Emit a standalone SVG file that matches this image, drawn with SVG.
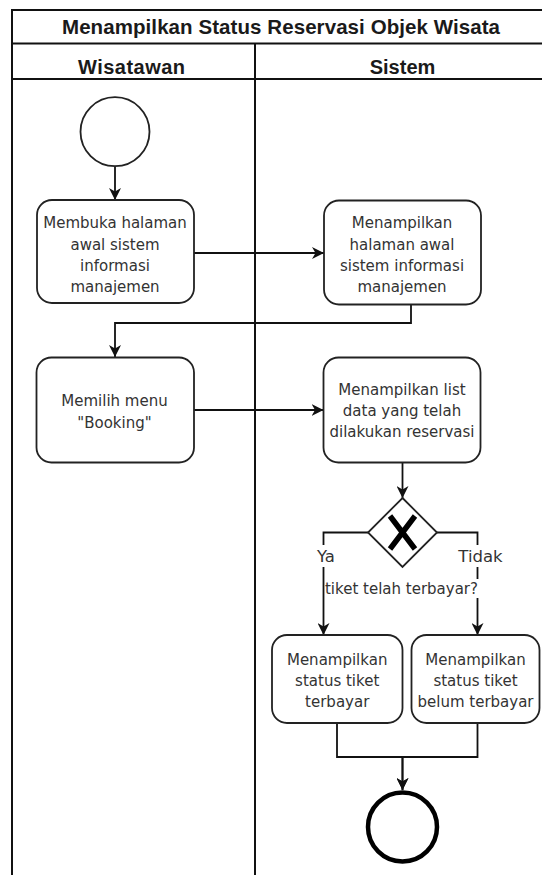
<svg xmlns="http://www.w3.org/2000/svg" width="542" height="875" viewBox="0 0 542 875">
<style>
.lane{fill:none;stroke:#111;stroke-width:2}
.box{fill:#fff;stroke:#222;stroke-width:1.8}
.edge{fill:none;stroke:#111;stroke-width:1.8}
.hd{font-family:"Liberation Sans",Arial,sans-serif;font-weight:bold;fill:#1a1a1a;text-anchor:middle}
.t{font-family:"DejaVu Sans","Noto Sans",sans-serif;font-size:15px;fill:#333;text-anchor:middle}
.lbl{font-family:"DejaVu Sans","Noto Sans",sans-serif;font-size:15px;fill:#333;text-anchor:middle}
.big{font-size:16.5px}
</style>
<defs>
<marker id="arr" viewBox="0 0 12 12" refX="12" refY="6" markerWidth="12" markerHeight="12" markerUnits="userSpaceOnUse" orient="auto">
<path d="M0,0 L12,6 L0,12 L3.5,6 Z" fill="#111"/>
</marker>
</defs>
<rect width="542" height="875" fill="#fff"/>
<g id="pool">
<rect class="lane" x="12" y="10" width="540" height="880"/>
<line class="lane" x1="12" y1="43.5" x2="552" y2="43.5"/>
<line class="lane" x1="12" y1="79" x2="552" y2="79"/>
<line class="lane" x1="255" y1="43.5" x2="255" y2="890"/>
<text class="hd" x="281" y="33.5" font-size="20.5" textLength="438" lengthAdjust="spacing">Menampilkan Status Reservasi Objek Wisata</text>
<text class="hd" x="131.5" y="74" font-size="20" textLength="107" lengthAdjust="spacing">Wisatawan</text>
<text class="hd" x="402.5" y="74" font-size="20">Sistem</text>
</g>
<g id="connectors">
<path class="edge" d="M115,166.5 V200" marker-end="url(#arr)"/>
<path class="edge" d="M194,253 H324" marker-end="url(#arr)"/>
<path class="edge" d="M411,305 V323 H115 V357" marker-end="url(#arr)"/>
<path class="edge" d="M194,410 H323.5" marker-end="url(#arr)"/>
<path class="edge" d="M402.5,463 V498" marker-end="url(#arr)"/>
<path class="edge" d="M368,532.5 H323.5 V635" marker-end="url(#arr)"/>
<path class="edge" d="M437,532.5 H477.5 V635" marker-end="url(#arr)"/>
<path class="edge" d="M337,723 V757 H402.5 V790" marker-end="url(#arr)"/>
<path class="edge" d="M477.5,723 V757 H402.5 V790" marker-end="url(#arr)"/>
<rect x="313" y="545" width="26" height="22" fill="#fff"/>
<text class="lbl big" x="326" y="562">Ya</text>
<rect x="457" y="545" width="47" height="22" fill="#fff"/>
<text class="lbl big" x="480.5" y="562">Tidak</text>
<rect x="325" y="579" width="154" height="19" fill="#fff"/>
<text class="lbl" x="401.5" y="593.5">tiket telah terbayar?</text>
</g>
<g id="start">
<circle cx="115" cy="131.7" r="34.5" fill="#fff" stroke="#222" stroke-width="1.8"/>
</g>
<g id="n1">
<rect class="box" x="37" y="200" width="157" height="103" rx="15"/>
<text class="t" x="115" y="228">Membuka halaman</text>
<text class="t" x="115" y="249.5">awal sistem</text>
<text class="t" x="115" y="271">informasi</text>
<text class="t" x="115" y="292">manajemen</text>
</g>
<g id="n2">
<rect class="box" x="324" y="200.5" width="157" height="104" rx="15"/>
<text class="t" x="402" y="228">Menampilkan</text>
<text class="t" x="402" y="249.5">halaman awal</text>
<text class="t" x="402" y="271">sistem informasi</text>
<text class="t" x="402" y="292">manajemen</text>
</g>
<g id="n3">
<rect class="box" x="36.5" y="357.5" width="157.5" height="105" rx="15"/>
<text class="t" x="114.5" y="406">Memilih menu</text>
<text class="t" x="114.5" y="427.5">"Booking"</text>
</g>
<g id="n4">
<rect class="box" x="323.5" y="357.5" width="157" height="105" rx="15"/>
<text class="t" x="402" y="395">Menampilkan list</text>
<text class="t" x="402" y="416">data yang telah</text>
<text class="t" x="402" y="437">dilakukan reservasi</text>
</g>
<g id="gateway">
<polygon points="402.5,498 437,532.5 402.5,567 368,532.5" fill="#fff" stroke="#222" stroke-width="1.8"/>
<path d="M390,516 L415,549 M415,516 L390,549" stroke="#000" stroke-width="5.5" fill="none"/>
</g>
<g id="n5">
<rect class="box" x="272" y="635" width="130.5" height="88" rx="15"/>
<text class="t" x="337.2" y="665">Menampilkan</text>
<text class="t" x="337.2" y="686">status tiket</text>
<text class="t" x="337.2" y="707">terbayar</text>
</g>
<g id="n6">
<rect class="box" x="411.5" y="635" width="128" height="88" rx="15"/>
<text class="t" x="475.5" y="665">Menampilkan</text>
<text class="t" x="475.5" y="686">status tiket</text>
<text class="t" x="475.5" y="707">belum terbayar</text>
</g>
<g id="end">
<circle cx="402.5" cy="827" r="34.5" fill="#fff" stroke="#000" stroke-width="4.5"/>
</g>
</svg>
